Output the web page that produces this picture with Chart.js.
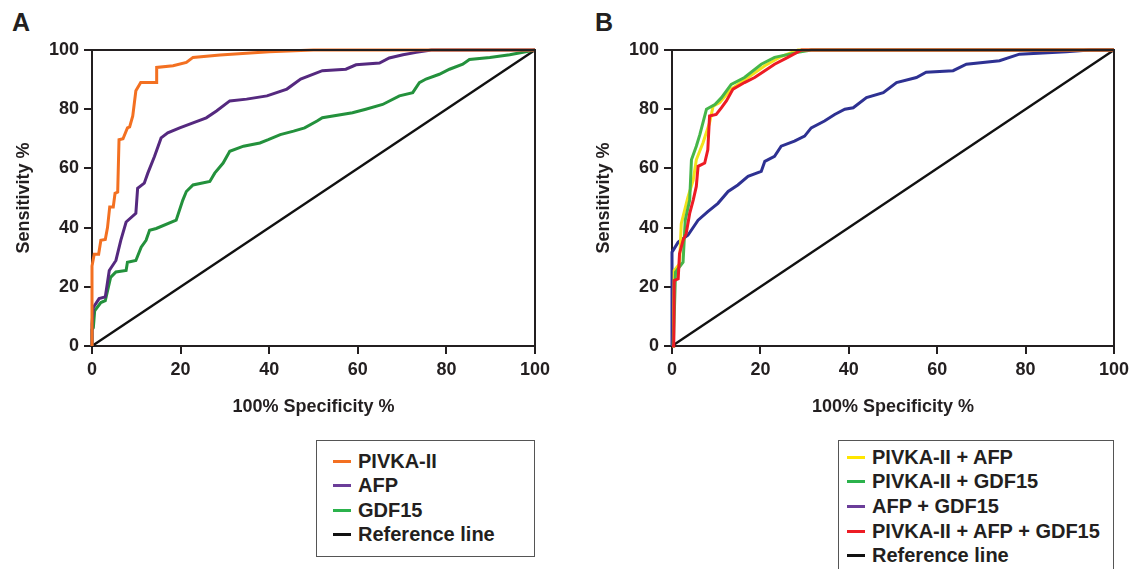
<!DOCTYPE html>
<html>
<head>
<meta charset="utf-8">
<script src="https://cdn.jsdelivr.net/npm/chart.js@4"></script>
<style>
  html, body { margin: 0; padding: 0; background: #fff; }
  body { width: 1135px; height: 569px; position: relative; overflow: hidden;
         font-family: "Liberation Sans", Arial, Helvetica, sans-serif; color: #231f20; }
  .panel { position: absolute; top: 0; height: 430px; }
  .tag { position: absolute; font-weight: bold; font-size: 25px; line-height: 1; }
  .legend { position: absolute; border: 1.5px solid #555; box-sizing: border-box; background: #fff; }
  .legend .row { position: absolute; left: 0; height: 24px; display: flex; align-items: center;
                 font-weight: bold; font-size: 20px; white-space: nowrap; }
  .legend .sw { display: inline-block; height: 3px; width: 18px; margin-right: 7px; }
</style>
</head>
<body>
<div class="tag" style="left:12px;top:10px;">A</div>
<div class="tag" style="left:595px;top:10px;">B</div>
<div class="panel" style="left:0;width:560px;"><canvas id="chartA" width="560" height="430"></canvas></div>
<div class="panel" style="left:580px;width:555px;"><canvas id="chartB" width="555" height="430"></canvas></div>
<div class="legend" id="legendA" style="left:316px;top:440px;width:219px;height:117px;"></div>
<div class="legend" id="legendB" style="left:838px;top:440px;width:276px;height:140px;"></div>
<script>
// ---------- DATA (x = 100% - Specificity %, y = Sensitivity %) ----------
const xTicks = [0, 20, 40, 60, 80, 100];
const yTicks = [0, 20, 40, 60, 80, 100];

// Panel A
const namesA = ["PIVKA-II", "AFP", "GDF15", "Reference line"];
const pivkaII = [[0,0],[0,27],[0.5,31],[1.5,31],[2,35.7],[3,36],[3.5,40],[4,47],[4.8,47],[5.2,51.6],[5.8,52],[6.1,69.7],[7,70],[8,73.7],[8.5,74],[9.2,77.7],[9.9,86.2],[11,89],[14.5,89],[14.6,94.1],[18.3,94.7],[21.3,95.8],[22.8,97.5],[28.9,98.3],[40,99.4],[50,100],[100,100]];
const afp = [[0,0],[0,7.4],[0.3,13],[1.6,16],[3,16.6],[3.9,25.5],[5.4,28.9],[6.5,35.7],[7.7,41.9],[9.9,44.8],[10.3,53.3],[11.8,55],[12.6,58.4],[14.1,64],[15.6,70.3],[17.1,72],[19.8,73.7],[22.8,75.4],[25.8,77.1],[28.1,79.4],[31.1,82.8],[34.9,83.4],[39.5,84.5],[44,86.8],[47.1,90.2],[52,93],[57.3,93.5],[59.6,95],[64.9,95.6],[67.1,97.3],[70.2,98.4],[73.2,99.2],[76.6,100],[100,100]];
const gdf15 = [[0,0],[0,5.5],[0.3,6.2],[0.6,11.9],[2,14.7],[3,15.3],[4.2,23.2],[5.4,25],[7.7,25.5],[8,28.3],[9.9,28.9],[11.1,33.4],[12.2,35.7],[13,39.1],[14.5,39.7],[19,42.5],[20.5,49.3],[21.3,52.2],[22.8,54.4],[26.6,55.6],[27.7,58.4],[29.6,61.8],[31.1,65.8],[34.2,67.5],[37.9,68.6],[39.8,69.7],[42.5,71.4],[45.5,72.6],[48,73.7],[50.8,76],[52,77.1],[58.8,78.8],[61.8,80],[65.6,81.6],[69.4,84.5],[72.4,85.6],[73.9,89],[75.4,90.2],[78.4,91.8],[80.7,93.5],[83.7,95.2],[85.2,96.8],[89.8,97.5],[94.3,98.4],[100,100]];
const referenceLine = [[0,0],[100,100]];

// Panel B
const namesB = ["PIVKA-II + AFP", "PIVKA-II + GDF15", "AFP + GDF15", "PIVKA-II + AFP + GDF15", "Reference line"];
const pivkaAfp = [[0,0],[0.3,0],[0.5,25.5],[1.7,27.7],[2.1,41.3],[3.6,50.3],[4.8,56],[5.5,62.9],[7,68.6],[8.5,75.4],[9.3,81],[10.8,82.2],[13.4,86.8],[17.2,90.7],[21,94.7],[24.7,97.8],[28.5,100],[100,100]];
const pivkaGdf = [[0,0],[0.3,0],[0.8,25],[2.5,28.3],[3,42.5],[4,49.3],[4.4,62.9],[5.5,67.5],[6.3,71.4],[7.8,80],[9.7,81.6],[11.2,83.9],[13.4,88.4],[16.4,90.7],[20.2,95.2],[23.2,97.5],[28.5,99.2],[31.5,100],[100,100]];
const afpGdf = [[0,0],[0,31.7],[1.4,35.1],[3.6,37.4],[5.9,42.5],[8.1,45.4],[10.4,48.2],[12.7,52.2],[14.9,54.4],[17.2,57.3],[20.2,59],[21,62.4],[23.2,64.1],[24.7,67.5],[27.7,69.2],[30,70.9],[31.5,73.7],[34.5,76],[36.8,78.2],[39.1,80],[41,80.5],[44,83.9],[47.8,85.6],[50.8,89],[55.3,90.7],[57.5,92.5],[63.6,93],[66.6,95.2],[74.1,96.4],[78.6,98.6],[89.2,99.4],[94.5,100],[100,100]];
const pivkaAfpGdf = [[0,0],[0.4,0],[0.5,22.1],[1.4,22.7],[1.7,31.2],[2.5,35.7],[3.2,37.9],[4,44.8],[4.8,49.3],[5.5,53.9],[5.9,60.7],[7.4,61.8],[8.1,66.3],[8.5,77.7],[10,78.2],[11.2,80.5],[12.3,82.8],[13.8,86.8],[16.4,89],[18.7,90.7],[21,93],[23.2,95.2],[26.2,97.5],[29.3,100],[100,100]];

// ---------- STYLES ----------
const lineColorsA = ["#f37021", "#55297f", "#23913c", "#111111"];
const legendColorsA = ["#f37021", "#6b3d99", "#2bb24c", "#111111"];
const lineColorsB = ["#f2e21a", "#45b649", "#2e3192", "#ed1c24", "#111111"];
const legendColorsB = ["#ffe600", "#2bb24c", "#6b3d99", "#ed1c24", "#111111"];

const FONT = "'Liberation Sans', Arial, Helvetica, sans-serif";
const INK = "#231f20";

const frame = {
  id: 'frame',
  afterDatasetsDraw(chart) {
    const {ctx, chartArea: a} = chart;
    ctx.save();
    ctx.strokeStyle = INK; ctx.lineWidth = 2;
    ctx.beginPath();
    ctx.moveTo(a.left, a.top); ctx.lineTo(a.right, a.top); ctx.lineTo(a.right, a.bottom);
    ctx.stroke();
    ctx.restore();
  }
};

function toXY(arr) { return arr.map(p => ({x: p[0], y: p[1]})); }

function makeChart(id, series, names, colors, orders, rightPad) {
  const datasets = series.map((s, i) => ({
    label: names[i],
    data: toXY(s),
    borderColor: colors[i],
    backgroundColor: colors[i],
    borderWidth: i === series.length - 1 ? 2.4 : 3,
    pointRadius: 0,
    tension: 0,
    fill: false,
    order: orders[i],
    clip: 3
  }));
  const tickFont = {family: FONT, size: 18, weight: 'bold'};
  return new Chart(document.getElementById(id), {
    type: 'line',
    data: {datasets},
    options: {
      responsive: false,
      animation: false,
      layout: {padding: {top: 50, right: rightPad, bottom: 0, left: 0}},
      plugins: {legend: {display: false}, tooltip: {enabled: false}},
      scales: {
        x: {
          type: 'linear', min: 0, max: 100,
          afterBuildTicks: s => { s.ticks = xTicks.map(v => ({value: v})); },
          afterFit: s => { s.height = 84; },
          ticks: {font: tickFont, color: INK, padding: 5, maxRotation: 0, autoSkip: false},
          grid: {display: true, drawOnChartArea: false, drawTicks: true, tickLength: 8, lineWidth: 2, color: INK},
          border: {display: true, width: 2, color: INK},
          title: {display: true, text: '100% Specificity %', font: tickFont, color: INK, padding: {top: 0, bottom: 12}}
        },
        y: {
          type: 'linear', min: 0, max: 100,
          afterBuildTicks: s => { s.ticks = yTicks.map(v => ({value: v})); },
          afterFit: s => { s.width = 92; },
          ticks: {font: tickFont, color: INK, padding: 5, autoSkip: false},
          grid: {display: true, drawOnChartArea: false, drawTicks: true, tickLength: 8, lineWidth: 2, color: INK},
          border: {display: true, width: 2, color: INK},
          title: {display: true, text: 'Sensitivity %', font: tickFont, color: INK, padding: {top: 13, bottom: 0}}
        }
      }
    },
    plugins: [frame]
  });
}

makeChart('chartA', [pivkaII, afp, gdf15, referenceLine], namesA, lineColorsA, [1, 2, 3, 4], 25);
makeChart('chartB', [pivkaAfp, pivkaGdf, afpGdf, pivkaAfpGdf, referenceLine], namesB, lineColorsB, [3, 2, 4, 1, 5], 21);

function buildLegend(id, names, colors, firstTop, step, left) {
  const box = document.getElementById(id);
  names.forEach((n, i) => {
    const row = document.createElement('div');
    row.className = 'row';
    row.style.top = (firstTop + i * step - 12) + 'px';
    row.style.left = left + 'px';
    const sw = document.createElement('span');
    sw.className = 'sw';
    sw.style.background = colors[i];
    const t = document.createElement('span');
    t.textContent = n;
    row.appendChild(sw); row.appendChild(t);
    box.appendChild(row);
  });
}
buildLegend('legendA', namesA, legendColorsA, 20, 24.6, 16);
buildLegend('legendB', namesB, legendColorsB, 16, 24.7, 8);
</script>
</body>
</html>
